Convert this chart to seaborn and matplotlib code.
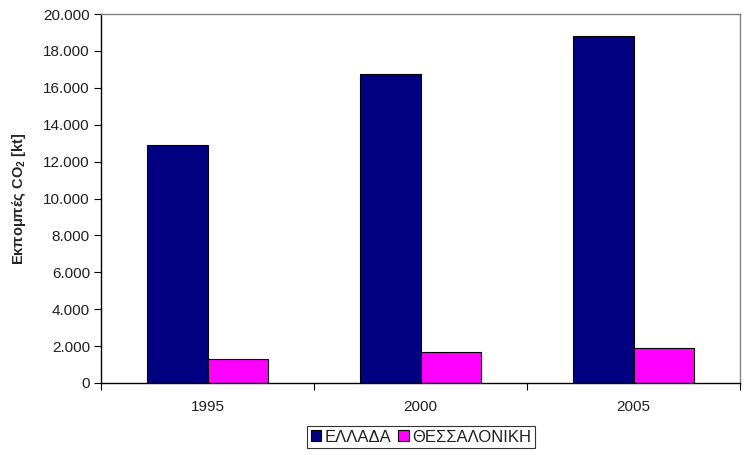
import matplotlib
matplotlib.use("Agg")
import matplotlib.pyplot as plt
from matplotlib.ticker import FuncFormatter, FixedLocator, MultipleLocator
from matplotlib.patches import Patch
import seaborn as sns
import pandas as pd

years = ["1995", "2000", "2005"]
series_names = ["ΕΛΛΑΔΑ", "ΘΕΣΣΑΛΟΝΙΚΗ"]
greece = [12900, 16750, 18800]
thessaloniki = [1300, 1680, 1900]
colors = ["#000080", "#FF00FF"]

df = pd.DataFrame({
    "year": years * 2,
    "region": [series_names[0]] * 3 + [series_names[1]] * 3,
    "value": greece + thessaloniki,
})

sns.set_style("white")
plt.rcParams["font.family"] = ["Liberation Sans", "DejaVu Sans"]
plt.rcParams["mathtext.fontset"] = "custom"
plt.rcParams["mathtext.rm"] = "Liberation Sans"
plt.rcParams["mathtext.bf"] = "Liberation Sans:bold"

fig = plt.figure(figsize=(7.51, 4.55), dpi=100)
ax = fig.add_axes([101 / 751, 72 / 455, 639 / 751, 369 / 455])

sns.barplot(data=df, x="year", y="value", hue="region", palette=colors,
            saturation=1, edgecolor="black", linewidth=0.8, width=0.57,
            ax=ax, legend=False)

ax.set_xlim(-0.5, 2.5)
ax.set_ylim(0, 20000)
ax.yaxis.set_major_locator(MultipleLocator(2000))
ax.yaxis.set_major_formatter(FuncFormatter(lambda v, p: f"{int(v):,}".replace(",", ".")))
ax.set_xlabel("")
ax.set_ylabel(r"Εκπομπές CO$\mathbf{_2}$ [kt]", fontsize=10.5, fontweight="bold", labelpad=11,
              family=["Liberation Sans", "DejaVu Sans"])

ax.xaxis.set_minor_locator(FixedLocator([-0.5, 0.5, 1.5, 2.5]))
ax.tick_params(axis="x", which="major", length=0, pad=12, labelsize=11, labelcolor="#202020")
ax.tick_params(axis="x", which="minor", length=5, width=0.8, direction="out", color="black", bottom=True)
ax.tick_params(axis="y", which="major", length=5, width=0.8, direction="out", color="black",
               labelsize=11, labelcolor="#202020", left=True, pad=3)

for side in ["left", "bottom"]:
    ax.spines[side].set_color("black")
    ax.spines[side].set_linewidth(1.0)
for side in ["top", "right"]:
    ax.spines[side].set_visible(True)
    ax.spines[side].set_color("#808080")
    ax.spines[side].set_linewidth(1.0)

handles = [Patch(facecolor=c, edgecolor="black", linewidth=0.8) for c in colors]
leg = fig.legend(handles, series_names, loc="center", bbox_to_anchor=(421 / 751, 1 - 437 / 455),
                 ncol=2, frameon=True, fancybox=False, edgecolor="black", fontsize=12,
                 handlelength=0.65, handleheight=0.65, handletextpad=0.2, columnspacing=0.4,
                 borderpad=0.2, borderaxespad=0)
leg.get_frame().set_linewidth(0.8)
for t in leg.get_texts():
    t.set_color("#202020")

fig.savefig("out.png", dpi=100)
